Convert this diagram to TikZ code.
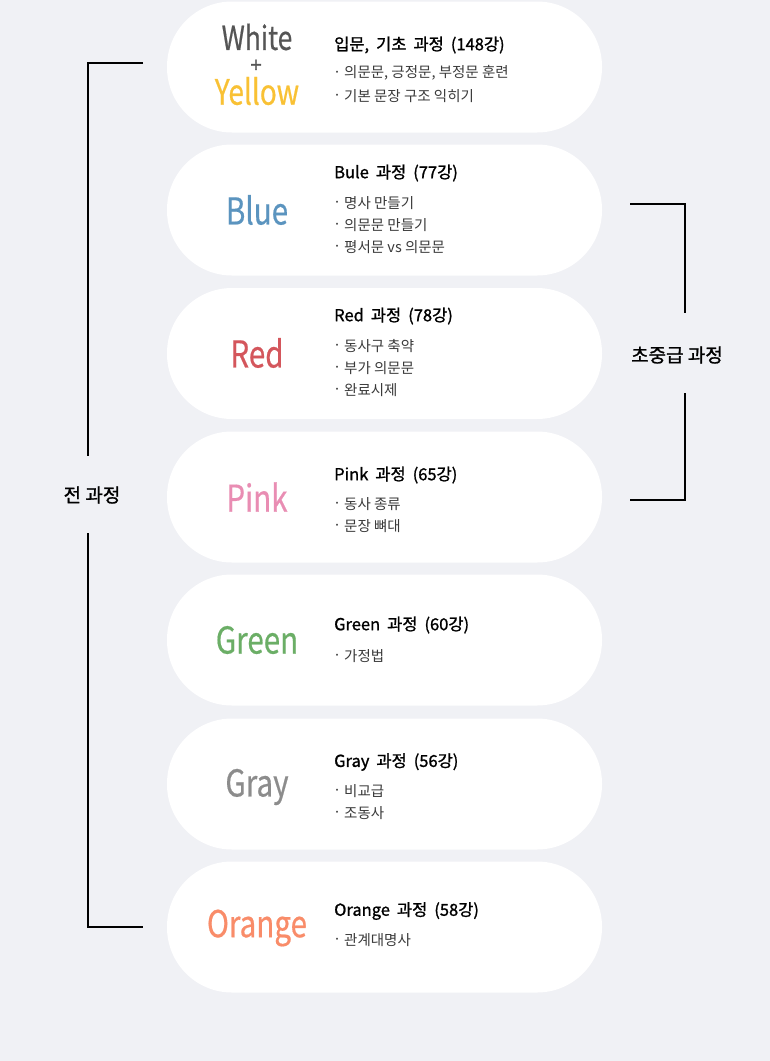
\documentclass[tikz,border=0pt]{standalone}
\usepackage{fontspec}
\setmainfont{Noto Sans CJK KR}
\newfontfamily\bigf[FakeStretch=0.8,FakeBold=0.5]{Noto Sans CJK KR}
\newfontfamily\krf{Noto Sans CJK KR}
\newfontfamily\krm[FakeBold=1.2]{Noto Sans CJK KR}
\newfontfamily\krh[FakeBold=2]{Noto Sans CJK KR}
\definecolor{bg}{HTML}{F0F1F5}
\definecolor{cWhite}{HTML}{555555}
\definecolor{cYellow}{HTML}{F9C134}
\definecolor{cBlue}{HTML}{5B94BF}
\definecolor{cRed}{HTML}{D4565C}
\definecolor{cPink}{HTML}{E98DB3}
\definecolor{cGreen}{HTML}{6BAE66}
\definecolor{cGray}{HTML}{8C8C8C}
\definecolor{cOrange}{HTML}{F98C69}
\definecolor{btxt}{HTML}{3A3A3A}
\newcommand{\widesp}{\spaceskip=7pt\relax}
\tikzset{
  card/.style={fill=white, draw=none, minimum width=435pt, minimum height=131pt, rounded corners=65pt, inner sep=0pt},
  bigword/.style={font=\bigf\fontsize{37}{40}\selectfont, inner sep=0pt},
  ttl/.style={anchor=west, font=\krm\fontsize{16.5}{19}\selectfont, execute at begin node=\widesp, text=black, inner sep=0pt},
  itm/.style={anchor=west, font=\krf\fontsize{14.5}{16}\selectfont, text=btxt, inner sep=0pt},
  brk/.style={line width=2pt, black},
  blabel/.style={font=\krm\fontsize{19}{21}\selectfont, inner sep=0pt}
}
\newcommand{\bul}[1]{\makebox[11pt][l]{\raisebox{0.5pt}{·}}#1}
\begin{document}
\begin{tikzpicture}[x=1pt,y=-1pt]
\fill[bg] (0,0) rectangle (770,1061);
\useasboundingbox (0,0) rectangle (770,1061);
% cards
\node[card] (c1) at (384.5,67) {};
\node[card] (c2) at (384.5,210) {};
\node[card] (c3) at (384.5,353.5) {};
\node[card] (c4) at (384.5,497) {};
\node[card] (c5) at (384.5,640) {};
\node[card] (c6) at (384.5,784) {};
\node[card] (c7) at (384.5,927) {};
% card 1
\node[bigword, text=cWhite, font=\bigf\fontsize{33}{36}\selectfont] (w1) at (257,37) {White};
\node[inner sep=0pt, text=cWhite, font=\krh\fontsize{20}{21}\selectfont] (plus) at (256,66) {+};
\node[bigword, text=cYellow, font=\bigf\fontsize{35}{38}\selectfont] (w1b) at (257,91) {Yellow};
\node[ttl] (t1) at (334,45) {입문, 기초 과정 (148강)};
\node[itm] (i11) at (333,73) {\bul{의문문, 긍정문, 부정문 훈련}};
\node[itm] (i12) at (333,96) {\bul{기본 문장 구조 익히기}};
% card 2
\node[bigword, text=cBlue] (w2) at (257,210) {Blue};
\node[ttl] (t2) at (334,173) {Bule 과정 (77강)};
\node[itm] (i21) at (333,203) {\bul{명사 만들기}};
\node[itm] (i22) at (333,225) {\bul{의문문 만들기}};
\node[itm] (i23) at (333,247) {\bul{평서문 vs 의문문}};
% card 3
\node[bigword, text=cRed] (w3) at (257,353) {Red};
\node[ttl] (t3) at (334,316) {Red 과정 (78강)};
\node[itm] (i31) at (333,346) {\bul{동사구 축약}};
\node[itm] (i32) at (333,368) {\bul{부가 의문문}};
\node[itm] (i33) at (333,390) {\bul{완료시제}};
% card 4
\node[bigword, text=cPink] (w4) at (257,497) {Pink};
\node[ttl] (t4) at (334,475) {Pink 과정 (65강)};
\node[itm] (i41) at (333,504) {\bul{동사 종류}};
\node[itm] (i42) at (333,526) {\bul{문장 뼈대}};
% card 5
\node[bigword, text=cGreen] (w5) at (257,640) {Green};
\node[ttl] (t5) at (334,625) {Green 과정 (60강)};
\node[itm] (i51) at (333,656) {\bul{가정법}};
% card 6
\node[bigword, text=cGray] (w6) at (257,787) {Gray};
\node[ttl] (t6) at (334,762) {Gray 과정 (56강)};
\node[itm] (i61) at (333,791) {\bul{비교급}};
\node[itm] (i62) at (333,813) {\bul{조동사}};
% card 7
\node[bigword, text=cOrange] (w7) at (257,928) {Orange};
\node[ttl] (t7) at (334,911) {Orange 과정 (58강)};
\node[itm] (i71) at (333,940) {\bul{관계대명사}};
% left bracket
\node[blabel] (all) at (92,495) {전 과정};
\coordinate (la) at (143,63);
\coordinate (lb) at (88,63);
\coordinate (lc) at (88,456);
\coordinate (ld) at (88,533);
\coordinate (le) at (88,927);
\coordinate (lf) at (143,927);
\draw[brk] (la) -- (lb) -- (lc);
\draw[brk] (ld) -- (le) -- (lf);
% right bracket
\node[blabel] (mid) at (677,355) {초중급 과정};
\coordinate (ra) at (630,204);
\coordinate (rb) at (685,204);
\coordinate (rc) at (685,313);
\coordinate (rd) at (685,393);
\coordinate (re) at (685,500);
\coordinate (rf) at (630,500);
\draw[brk] (ra) -- (rb) -- (rc);
\draw[brk] (rd) -- (re) -- (rf);
\end{tikzpicture}
\end{document}
